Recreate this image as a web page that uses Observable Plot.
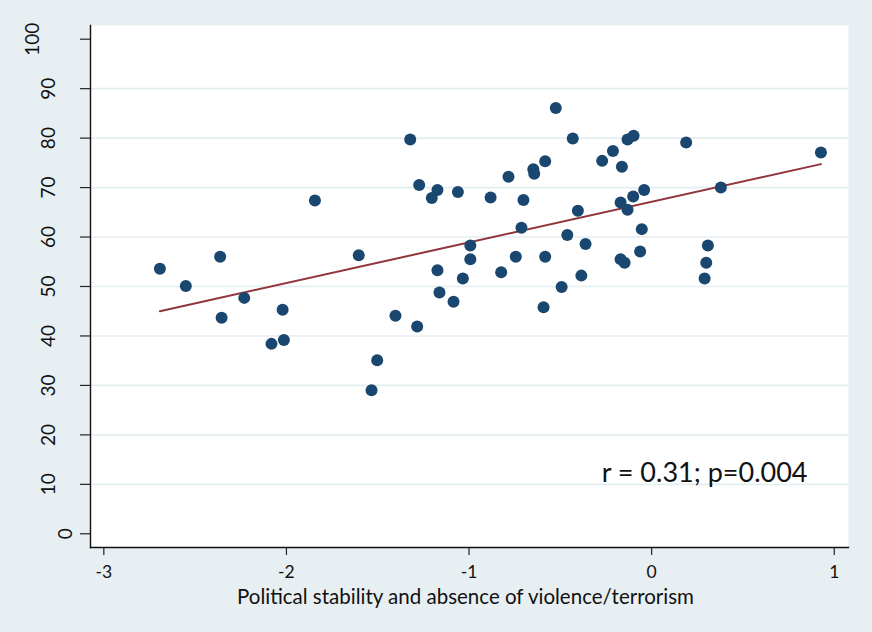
<!DOCTYPE html>
<html><head><meta charset="utf-8">
<script src="https://cdn.jsdelivr.net/npm/d3@7"></script>
<script src="https://cdn.jsdelivr.net/npm/@observablehq/plot@0.6"></script>
<style>
html,body{margin:0;padding:0;background:#e8eff2;}
#chart{width:872px;height:632px;}
</style></head><body><div id="chart"></div>
<script>
// Political stability index (x) and outcome score (y) per country
const stability = [
  -2.693, -2.551, -2.363, -2.231, -2.355, -2.021, -2.082, -2.014, -1.844, -1.604,
  -1.322, -1.273, -1.173, -1.204, -1.061, -0.882, -0.784, -0.702, -0.648, -0.643,
  -0.583, -0.525, -0.432, -0.404, -0.713, -0.462, -0.993, -0.993, -1.173, -1.162,
  -1.034, -1.085, -0.824, -0.744, -0.583, -0.493, -0.592, -0.385, -1.403, -1.284,
  -1.503, -1.534, -0.271, -0.212, -0.163, -0.132, -0.099, 0.189, 0.927, 0.379,
  -0.041, -0.101, -0.170, -0.132, -0.054, -0.362, 0.308, -0.063, -0.170, -0.148,
  0.299, 0.290
];
const score = [
  53.6, 50.1, 56.0, 47.7, 43.7, 45.3, 38.4, 39.2, 67.4, 56.3,
  79.7, 70.5, 69.5, 67.9, 69.1, 68.0, 72.2, 67.5, 73.7, 72.8,
  75.3, 86.1, 79.9, 65.3, 61.9, 60.4, 58.3, 55.5, 53.3, 48.8,
  51.6, 46.9, 52.9, 56.0, 56.0, 49.9, 45.8, 52.2, 44.1, 41.9,
  35.1, 29.0, 75.4, 77.4, 74.2, 79.7, 80.5, 79.1, 77.1, 70.0,
  69.5, 68.2, 67.0, 65.5, 61.6, 58.6, 58.3, 57.1, 55.5, 54.8,
  54.8, 51.6
];
const xTicks = [-3, -2, -1, 0, 1];
const yTicks = [0, 10, 20, 30, 40, 50, 60, 70, 80, 90, 100];
const gridTicks = [10, 20, 30, 40, 50, 60, 70, 80, 90];
const xTitle = "Political stability and absence of violence/terrorism";
const annotation = "r = 0.31; p=0.004";

const data = stability.map((x, i) => ({x, y: score[i]}));
const navy = "#1a476f";
const maroon = "#90353b";
const fmt = d => String(d);
const yAxisOpts = {tickSize: 10, tickRotate: -90, fontSize: 19, label: null, tickFormat: fmt, stroke: "#222", strokeWidth: 1.2};

const chart = Plot.plot({
  width: 872,
  height: 632,
  marginLeft: 90,
  marginRight: 24,
  marginTop: 25,
  marginBottom: 85,
  style: {fontFamily: "Lato", background: "#e8eff2", color: "#111", overflow: "visible"},
  x: {domain: [-3.073, 1.078]},
  y: {domain: [-2.77, 102.77]},
  marks: [
    Plot.frame({fill: "white", stroke: null}),
    Plot.gridY(gridTicks, {stroke: "#e4edf0", strokeOpacity: 1, strokeWidth: 1.6}),
    Plot.axisY(yTicks.filter(t => String(t).length === 1), {...yAxisOpts, tickPadding: 9}),
    Plot.axisY(yTicks.filter(t => String(t).length === 2), {...yAxisOpts, tickPadding: 26}),
    Plot.axisY(yTicks.filter(t => String(t).length === 3), {...yAxisOpts, tickPadding: 42}),
    Plot.axisX(xTicks, {tickSize: 8, tickPadding: 10, fontSize: 17.5, tickFormat: fmt, stroke: "#222", strokeWidth: 1.2, label: null}),
    Plot.text([xTitle], {frameAnchor: "bottom", lineAnchor: "middle", dy: 50, dx: -4, fontSize: 20.5, fill: "#111"}),
    Plot.frame({anchor: "left", stroke: "#111", strokeWidth: 1.4}),
    Plot.frame({anchor: "bottom", stroke: "#111", strokeWidth: 1.4}),
    Plot.linearRegressionY(data, {x: "x", y: "y", ci: 0, stroke: maroon, strokeWidth: 2}),
    Plot.dot(data, {x: "x", y: "y", r: 6, fill: navy, stroke: null}),
    Plot.text([annotation], {frameAnchor: "bottom-right", textAnchor: "end", lineAnchor: "middle",
      dx: -41, dy: -74, fontSize: 27, fill: "#111"})
  ]
});
document.getElementById("chart").appendChild(chart);
</script>
</body></html>
